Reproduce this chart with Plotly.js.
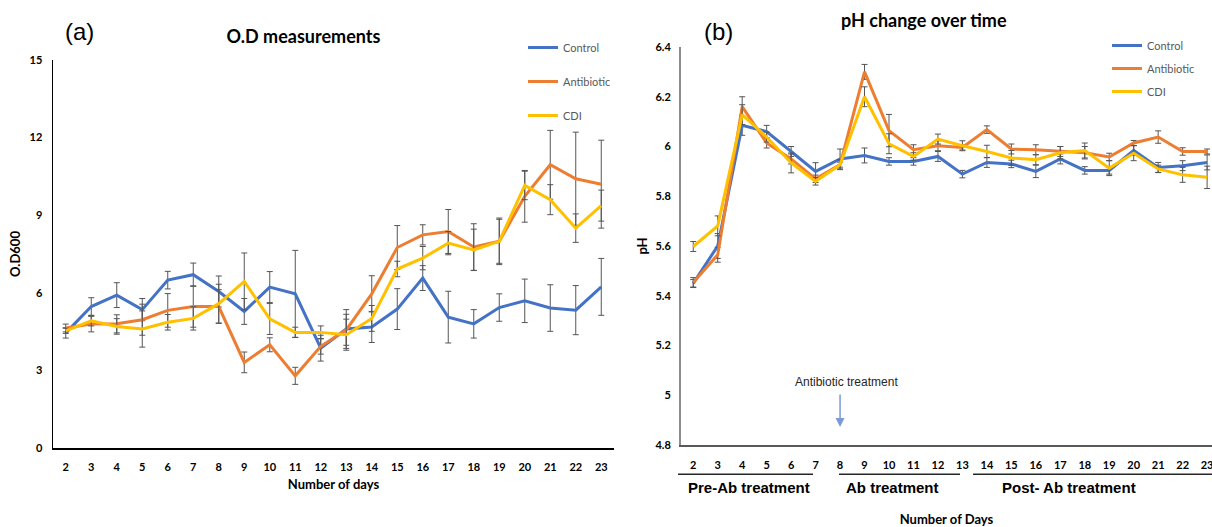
<!DOCTYPE html>
<html>
<head>
<meta charset="utf-8">
<script src="https://cdn.plot.ly/plotly-3.0.1.min.js"></script>
<style>html,body{margin:0;padding:0;background:#fff}#chart{width:1212px;height:527px}</style>
</head>
<body>
<div id="chart"></div>
<script>
// ---------- data ----------
var days = [2, 3, 4, 5, 6, 7, 8, 9, 10, 11, 12, 13, 14, 15, 16, 17, 18, 19, 20, 21, 22, 23];
var seriesNames = ['Control', 'Antibiotic', 'CDI'];

// (a) O.D600 measurements
var odControl    = [4.45, 5.47, 5.91, 5.35, 6.49, 6.70, 6.05, 5.28, 6.22, 5.96, 3.86, 4.60, 4.68, 5.37, 6.57, 5.06, 4.80, 5.43, 5.69, 5.41, 5.33, 6.23];
var odControlErr = [0.20, 0.34, 0.48, 0.43, 0.34, 0.45, 0.60, 0.50, 0.60, 1.68, 0.50, 0.75, 0.60, 0.79, 0.48, 1.00, 0.55, 0.53, 0.84, 0.90, 0.95, 1.10];
var odAntibiotic    = [4.64, 4.79, 4.80, 4.96, 5.32, 5.47, 5.47, 3.31, 3.99, 2.79, 3.93, 4.57, 5.96, 7.75, 8.24, 8.37, 7.77, 7.99, 9.73, 10.95, 10.41, 10.20];
var odAntibioticErr = [0.15, 0.30, 0.35, 0.60, 0.65, 0.80, 0.65, 0.40, 0.27, 0.33, 0.30, 0.60, 0.70, 0.85, 0.39, 0.85, 0.90, 0.85, 1.00, 1.33, 1.80, 1.70];
var odCDI    = [4.53, 4.92, 4.70, 4.60, 4.86, 5.01, 5.58, 6.44, 4.99, 4.47, 4.47, 4.38, 5.01, 6.92, 7.34, 7.92, 7.66, 7.99, 10.15, 9.60, 8.50, 9.37];
var odCDIErr = [0.10, 0.20, 0.30, 0.70, 0.30, 0.45, 0.75, 1.10, 0.60, 0.20, 0.25, 0.60, 0.50, 0.30, 0.45, 0.45, 0.80, 0.90, 0.55, 0.58, 0.55, 0.60];

// (b) pH change over time
var phControl    = [5.45, 5.60, 6.085, 6.06, 5.98, 5.90, 5.95, 5.964, 5.94, 5.94, 5.96, 5.889, 5.936, 5.93, 5.90, 5.95, 5.904, 5.904, 5.984, 5.916, 5.923, 5.936];
var phControlErr = [0.015, 0.05, 0.04, 0.025, 0.02, 0.035, 0.04, 0.03, 0.015, 0.015, 0.02, 0.015, 0.02, 0.015, 0.025, 0.02, 0.015, 0.015, 0.02, 0.02, 0.02, 0.03];
var phAntibiotic    = [5.453, 5.565, 6.16, 6.014, 5.95, 5.87, 5.927, 6.30, 6.064, 5.987, 6.003, 5.996, 6.068, 5.99, 5.987, 5.98, 5.975, 5.958, 6.014, 6.038, 5.98, 5.98];
var phAntibioticErr = [0.02, 0.03, 0.04, 0.02, 0.02, 0.015, 0.01, 0.03, 0.065, 0.02, 0.02, 0.01, 0.015, 0.02, 0.02, 0.02, 0.025, 0.015, 0.01, 0.025, 0.015, 0.01];
var phCDI    = [5.598, 5.681, 6.128, 6.038, 5.934, 5.86, 5.927, 6.20, 6.011, 5.96, 6.03, 6.003, 5.98, 5.954, 5.947, 5.975, 5.984, 5.913, 5.973, 5.91, 5.886, 5.876];
var phCDIErr = [0.02, 0.04, 0.04, 0.02, 0.04, 0.015, 0.02, 0.04, 0.04, 0.015, 0.02, 0.02, 0.025, 0.03, 0.02, 0.025, 0.03, 0.03, 0.03, 0.015, 0.03, 0.045];

var odTickVals = [0, 3, 6, 9, 12, 15];
var odTickText = ['0', '3', '6', '9', '12', '15'];
var phTickVals = [4.8, 5.0, 5.2, 5.4, 5.6, 5.8, 6.0, 6.2, 6.4];
var phTickText = ['4.8', '5', '5.2', '5.4', '5.6', '5.8', '6', '6.2', '6.4'];

var phaseLabels = ['Pre-Ab treatment', 'Ab treatment', 'Post- Ab treatment'];

// ---------- styling ----------
var W = 1212, H = 527;
var colors = ['#4472C4', '#ED7D31', '#FFC000'];
var errColor = '#555555';
var FAM = 'Lato, "Open Sans", sans-serif';
var ARIAL = '"Liberation Sans", Arial, sans-serif';
var tickFont = {family: FAM, size: 11, color: '#000', weight: 700};
var legFont = {family: FAM, size: 11, color: '#595959'};
function px(x) { return x / W; }
function py(y) { return (H - y) / H; }

function mk(y, err, i, xa, ya, leg) {
  return {
    type: 'scatter', mode: 'lines', x: days, y: y,
    name: seriesNames[i], legend: leg, legendgroup: leg + i,
    xaxis: xa, yaxis: ya,
    line: {color: colors[i], width: 3},
    error_y: {type: 'data', array: err, visible: true, color: errColor, thickness: 1, width: 3}
  };
}

var traces = [
  mk(odControl, odControlErr, 0, 'x', 'y', 'legend'),
  mk(odAntibiotic, odAntibioticErr, 1, 'x', 'y', 'legend'),
  mk(odCDI, odCDIErr, 2, 'x', 'y', 'legend'),
  mk(phControl, phControlErr, 0, 'x2', 'y2', 'legend2'),
  mk(phAntibiotic, phAntibioticErr, 1, 'x2', 'y2', 'legend2'),
  mk(phCDI, phCDIErr, 2, 'x2', 'y2', 'legend2')
];

var axTitleFont = {family: FAM, size: 13, color: '#000', weight: 700};

function txt(text, x, y, font) {
  return {text: text, xref: 'paper', yref: 'paper', x: px(x), y: py(y),
          xanchor: 'center', yanchor: 'middle', showarrow: false, font: font};
}

var layout = {
  width: W, height: H,
  margin: {l: 0, r: 0, t: 0, b: 0},
  paper_bgcolor: '#fff', plot_bgcolor: '#fff',
  title: {text: 'O.D measurements', x: px(303.5), xanchor: 'center', y: py(37), yanchor: 'middle',
          font: {family: FAM, size: 18, color: '#000', weight: 700}},
  xaxis: {domain: [px(53), px(614)], range: [1.5, 23.5], anchor: 'y',
          tickvals: days, ticks: '', showgrid: false, zeroline: false,
          showline: true, linecolor: '#000', linewidth: 1.5,
          tickfont: tickFont, ticklabelstandoff: 8,
          title: {text: 'Number of days', font: axTitleFont, standoff: 8}},
  yaxis: {domain: [py(448), py(60)], range: [0, 15], anchor: 'x',
          tickvals: odTickVals, ticktext: odTickText, ticks: '', showgrid: false, zeroline: false,
          showline: true, linecolor: '#000', linewidth: 1.5,
          tickfont: tickFont, ticklabelstandoff: 7,
          title: {text: 'O.D600', font: axTitleFont, standoff: 6}},
  xaxis2: {domain: [px(681), 1], range: [1.5, 23.2], anchor: 'y2',
           tickvals: days, ticks: '', showgrid: false, zeroline: false,
           showline: true, linecolor: '#595959', linewidth: 1.5,
           tickfont: tickFont, ticklabelstandoff: 9, ticklabeloverflow: 'allow',
           title: {text: 'Number of Days', font: axTitleFont, standoff: 50}},
  yaxis2: {domain: [py(445), py(47)], range: [4.8, 6.4], anchor: 'x2',
           tickvals: phTickVals, ticktext: phTickText, ticks: '', showgrid: false, zeroline: false,
           showline: true, linecolor: '#8c8c8c', linewidth: 2,
           tickfont: tickFont, ticklabelstandoff: 6,
           title: {text: 'pH', font: axTitleFont, standoff: 5}},
  showlegend: true,
  legend: {x: px(523), xanchor: 'left', y: py(33), yanchor: 'top', bgcolor: 'rgba(0,0,0,0)',
           font: legFont, tracegroupgap: 15, itemwidth: 30},
  legend2: {x: px(1107), xanchor: 'left', y: py(31), yanchor: 'top', bgcolor: 'rgba(0,0,0,0)',
            font: legFont, tracegroupgap: 4, itemwidth: 30},
  shapes: [
    {type: 'line', xref: 'paper', yref: 'paper', x0: px(678), x1: px(813), y0: py(474.3), y1: py(474.3), line: {color: '#262626', width: 1.5}},
    {type: 'line', xref: 'paper', yref: 'paper', x0: px(839), x1: px(960), y0: py(474.3), y1: py(474.3), line: {color: '#262626', width: 1.5}},
    {type: 'line', xref: 'paper', yref: 'paper', x0: px(973), x1: 1, y0: py(474.3), y1: py(474.3), line: {color: '#262626', width: 1.5}}
  ],
  annotations: [
    txt('(a)', 79, 31, {family: ARIAL, size: 24, color: '#000'}),
    txt('(b)', 718, 31, {family: ARIAL, size: 24, color: '#000'}),
    txt('pH change over time', 923.5, 20, {family: FAM, size: 18, color: '#000', weight: 700}),
    txt('Antibiotic treatment', 846, 382, {family: ARIAL, size: 12, color: '#262626'}),
    {text: '', xref: 'x2', yref: 'y2', x: 8, y: 4.872, ax: 0, ay: -34, axref: 'pixel', ayref: 'pixel',
     showarrow: true, arrowhead: 2, arrowsize: 1.2, arrowwidth: 1.5, arrowcolor: '#7b9ad6'},
    txt(phaseLabels[0], 748.5, 487, {family: ARIAL, size: 15, color: '#000', weight: 700}),
    txt(phaseLabels[1], 893, 487, {family: ARIAL, size: 15, color: '#000', weight: 700}),
    txt(phaseLabels[2], 1069, 487, {family: ARIAL, size: 15, color: '#000', weight: 700})
  ]
};

Plotly.newPlot('chart', traces, layout, {displayModeBar: false, staticPlot: true});
</script>
</body>
</html>
